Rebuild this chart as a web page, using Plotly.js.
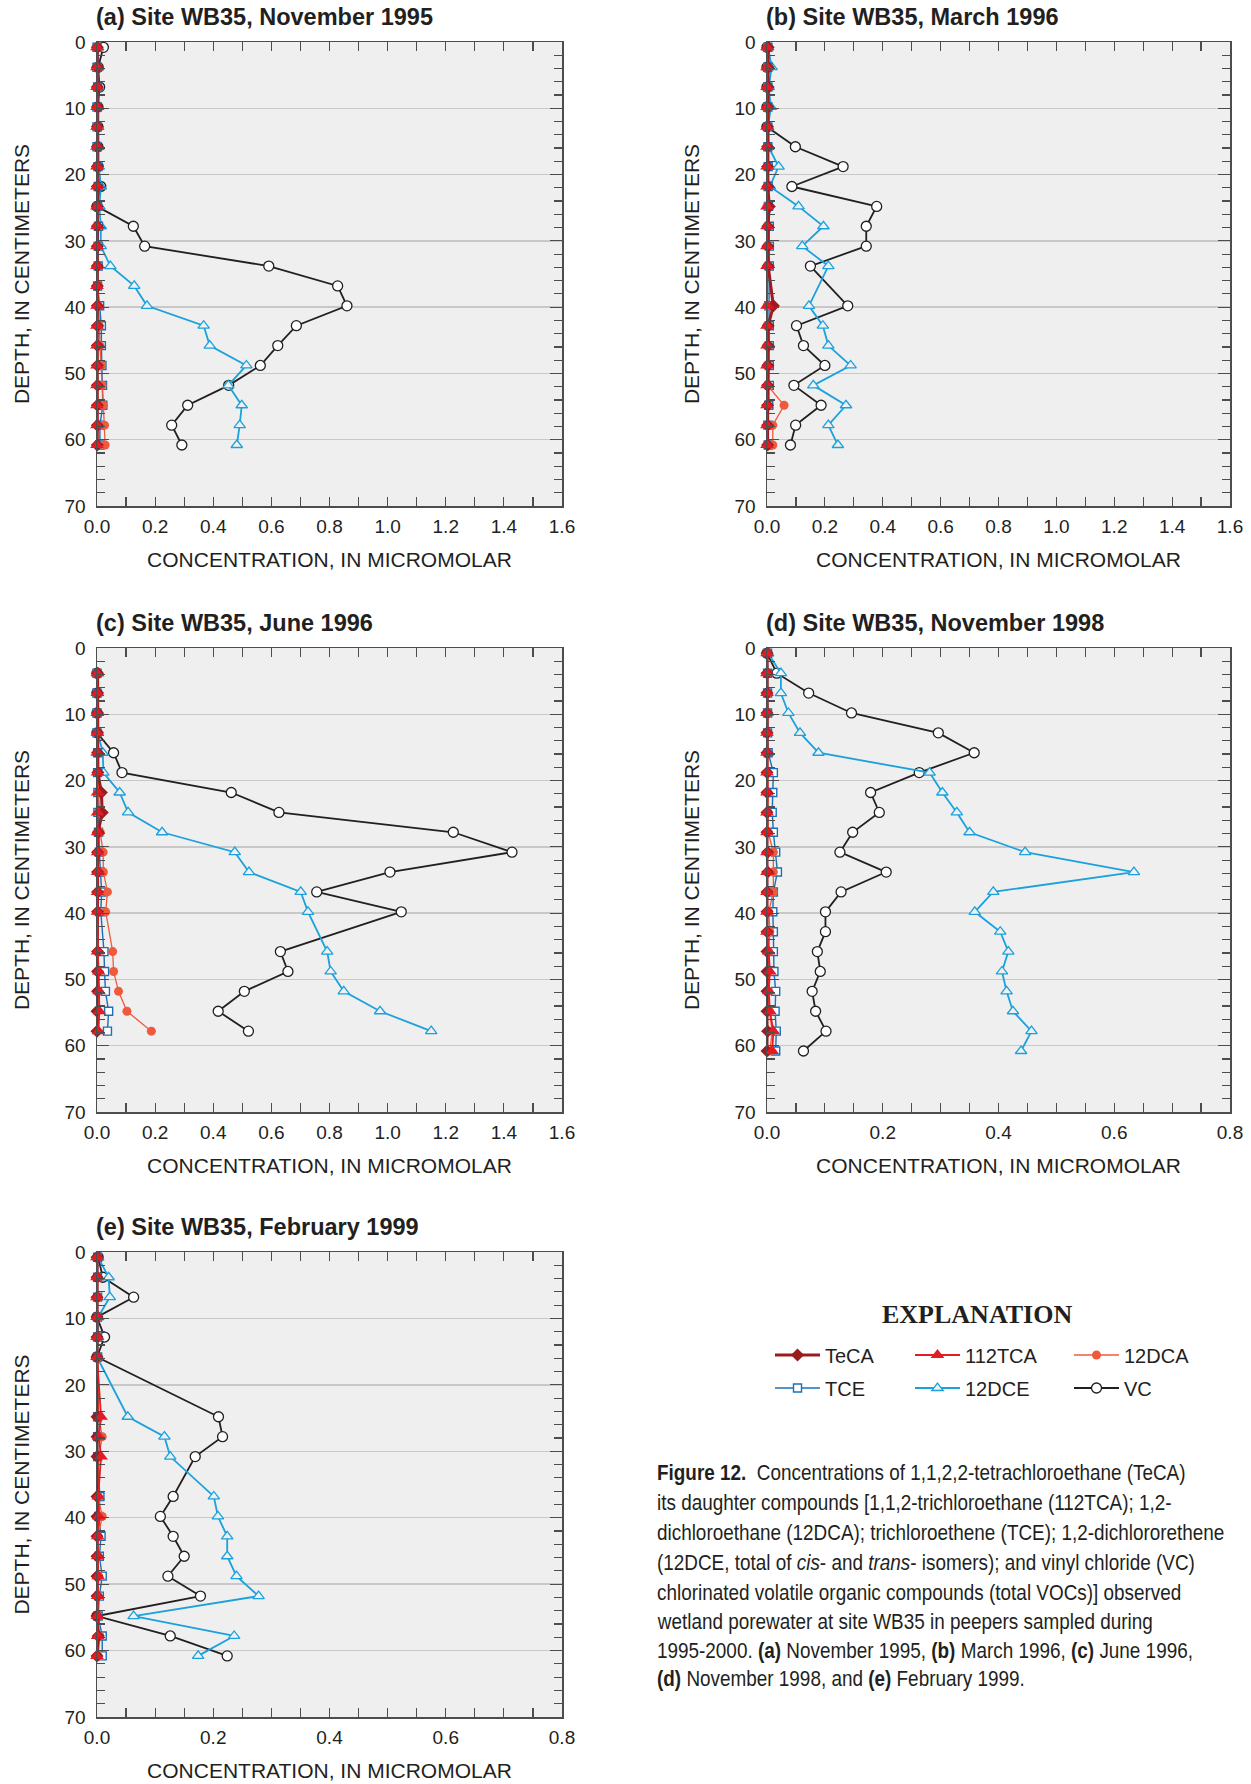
<!DOCTYPE html>
<html><head><meta charset="utf-8">
<script src="https://cdn.plot.ly/plotly-3.0.1.min.js"></script>
<style>html,body{margin:0;padding:0;background:#fff}</style>
</head><body><div id="chart" style="width:1251px;height:1784px"></div>
<script>
// ---------------- DATA ----------------
// Depths of peeper cells, in centimeters
const depthA = [0.8, 3.8, 6.8, 9.8, 12.8, 15.8, 18.8, 21.8, 24.8, 27.8, 30.8, 33.8, 36.8, 39.8, 42.8, 45.8, 48.8, 51.8, 54.8, 57.8, 60.8];
const depthB = [0.8, 3.8, 6.8, 9.8, 12.8, 15.8, 18.8, 21.8, 24.8, 27.8, 30.8, 33.8, 39.8, 42.8, 45.8, 48.8, 51.8, 54.8, 57.8, 60.8];
const depthC = [3.8, 6.8, 9.8, 12.8, 15.8, 18.8, 21.8, 24.8, 27.8, 30.8, 33.8, 36.8, 39.8, 45.8, 48.8, 51.8, 54.8, 57.8];
const depthD = [0.8, 3.8, 6.8, 9.8, 12.8, 15.8, 18.8, 21.8, 24.8, 27.8, 30.8, 33.8, 36.8, 39.8, 42.8, 45.8, 48.8, 51.8, 54.8, 57.8, 60.8];
const depthE = [0.8, 3.8, 6.8, 9.8, 12.8, 15.8, 24.8, 27.8, 30.8, 36.8, 39.8, 42.8, 45.8, 48.8, 51.8, 54.8, 57.8, 60.8];

// (a) November 1995
const VC_a     = [0.022, 0.004, 0.009, 0.003, 0.003, 0.003, 0.004, 0.013, 0.0, 0.125, 0.164, 0.591, 0.828, 0.86, 0.686, 0.622, 0.562, 0.453, 0.312, 0.257, 0.292];
const DCE12_a  = [0.004, 0.004, 0.005, 0.004, 0.004, 0.005, 0.006, 0.013, 0.008, 0.013, 0.013, 0.046, 0.128, 0.172, 0.367, 0.388, 0.514, 0.452, 0.498, 0.491, 0.481];
const TCE_a    = [0.0, 0.0, 0.002, 0.0, 0.0, 0.0, 0.003, 0.004, 0.002, 0.005, 0.004, 0.004, 0.002, 0.009, 0.015, 0.015, 0.017, 0.019, 0.02, 0.01, 0.01];
const DCA12_a  = [0.0, 0.0, 0.0, 0.0, 0.0, 0.0, 0.0, 0.0, 0.0, 0.0, 0.0, 0.0, 0.004, 0.005, 0.008, 0.01, 0.015, 0.018, 0.022, 0.026, 0.028];
const TCA112_a = [0.0, 0.0, 0.0, 0.0, 0.0, 0.0, 0.0, 0.0, 0.0, 0.0, 0.0, 0.0, 0.0, 0.0, 0.0, 0.0, 0.0, 0.0, 0.0, 0.0, 0.0];
const TeCA_a   = [0.001, 0.001, 0.001, 0.001, 0.001, 0.001, 0.001, 0.001, 0.001, 0.001, 0.001, 0.001, 0.001, 0.001, 0.001, 0.001, 0.001, 0.001, 0.001, 0.001, 0.001];

// (b) March 1996
const VC_b     = [0.0, 0.0, 0.0, 0.0, 0.0, 0.098, 0.263, 0.086, 0.379, 0.343, 0.343, 0.150, 0.279, 0.102, 0.126, 0.200, 0.093, 0.187, 0.099, 0.081];
const DCE12_b  = [0.004, 0.016, 0.006, 0.013, 0.004, 0.005, 0.040, 0.010, 0.109, 0.195, 0.122, 0.212, 0.145, 0.193, 0.212, 0.289, 0.160, 0.273, 0.212, 0.245];
const TCE_b    = [0.003, 0.003, 0.003, 0.003, 0.003, 0.003, 0.004, 0.004, 0.005, 0.008, 0.008, 0.008, 0.006, 0.008, 0.008, 0.008, 0.008, 0.006, 0.003, 0.004];
const DCA12_b  = [0.0, 0.0, 0.0, 0.0, 0.0, 0.0, 0.0, 0.0, 0.0, 0.0, 0.0, 0.0, 0.0, 0.0, 0.0, 0.0, 0.002, 0.059, 0.02, 0.02];
const TCA112_b = [0.0, 0.0, 0.0, 0.0, 0.0, 0.0, 0.0, 0.0, 0.0, 0.0, 0.0, 0.0, 0.0, 0.0, 0.0, 0.0, 0.0, 0.0, 0.0, 0.0];
const TeCA_b   = [0.004, 0.004, 0.004, 0.003, 0.002, 0.002, 0.002, 0.003, 0.008, 0.003, 0.003, 0.004, 0.022, 0.004, 0.004, 0.003, 0.002, 0.002, 0.002, 0.002];

// (c) June 1996
const VC_c     = [0.0, 0.0, 0.0, 0.0, 0.057, 0.086, 0.462, 0.626, 1.226, 1.428, 1.008, 0.756, 1.047, 0.631, 0.657, 0.507, 0.417, 0.521];
const DCE12_c  = [0.003, 0.003, 0.003, 0.003, 0.020, 0.022, 0.078, 0.107, 0.224, 0.474, 0.523, 0.701, 0.726, 0.792, 0.804, 0.849, 0.974, 1.150];
const TCE_c    = [0.0, 0.0, 0.0, 0.0, 0.002, 0.002, 0.003, 0.003, 0.005, 0.008, 0.011, 0.016, 0.013, 0.024, 0.026, 0.029, 0.040, 0.036];
const DCA12_c  = [0.002, 0.002, 0.002, 0.002, 0.003, 0.004, 0.006, 0.008, 0.011, 0.021, 0.022, 0.036, 0.030, 0.054, 0.057, 0.074, 0.103, 0.187];
const TCA112_c = [0.001, 0.001, 0.001, 0.001, 0.001, 0.002, 0.002, 0.002, 0.002, 0.002, 0.002, 0.002, 0.002, 0.002, 0.006, 0.007, 0.008, 0.005];
const TeCA_c   = [0.002, 0.002, 0.002, 0.002, 0.002, 0.003, 0.015, 0.018, 0.004, 0.002, 0.002, 0.002, 0.002, 0.002, 0.002, 0.002, 0.0, 0.0];

// (d) November 1998
const VC_d     = [0.0, 0.017, 0.072, 0.146, 0.296, 0.358, 0.263, 0.179, 0.194, 0.148, 0.126, 0.206, 0.128, 0.101, 0.101, 0.087, 0.092, 0.078, 0.084, 0.102, 0.063];
const DCE12_d  = [0.002, 0.024, 0.024, 0.037, 0.057, 0.089, 0.281, 0.303, 0.328, 0.350, 0.446, 0.634, 0.391, 0.359, 0.403, 0.417, 0.406, 0.414, 0.425, 0.457, 0.439];
const TCE_d    = [0.001, 0.001, 0.001, 0.001, 0.001, 0.002, 0.011, 0.010, 0.009, 0.011, 0.015, 0.018, 0.011, 0.010, 0.011, 0.011, 0.012, 0.015, 0.014, 0.016, 0.015];
const DCA12_d  = [0.001, 0.001, 0.001, 0.001, 0.001, 0.001, 0.001, 0.001, 0.002, 0.002, 0.011, 0.011, 0.011, 0.003, 0.005, 0.003, 0.002, 0.002, 0.004, 0.009, 0.005];
const TCA112_d = [0.0, 0.0, 0.0, 0.0, 0.0, 0.0, 0.0, 0.0, 0.0, 0.0, 0.0, 0.0, 0.0, 0.0, 0.0, 0.003, 0.005, 0.003, 0.005, 0.011, 0.009];
const TeCA_d   = [0.0, 0.0, 0.0, 0.0, 0.0, 0.0, 0.0, 0.0, 0.0, 0.0, 0.001, 0.001, 0.0, 0.0, 0.0, 0.0, 0.0, 0.0, 0.0, 0.001, 0.0];

// (e) February 1999
const VC_e     = [0.002, 0.010, 0.063, 0.0, 0.013, 0.0, 0.209, 0.216, 0.169, 0.131, 0.109, 0.131, 0.150, 0.122, 0.178, 0.0, 0.126, 0.224];
const DCE12_e  = [0.002, 0.020, 0.022, 0.002, 0.002, 0.0, 0.053, 0.116, 0.126, 0.201, 0.208, 0.224, 0.224, 0.240, 0.278, 0.063, 0.236, 0.174];
const TCE_e    = [0.001, 0.001, 0.001, 0.001, 0.001, 0.001, 0.001, 0.001, 0.001, 0.005, 0.003, 0.007, 0.004, 0.009, 0.004, 0.002, 0.009, 0.009];
const DCA12_e  = [0.001, 0.001, 0.001, 0.001, 0.001, 0.001, 0.003, 0.009, 0.003, 0.002, 0.009, 0.002, 0.002, 0.003, 0.002, 0.001, 0.005, 0.002];
const TCA112_e = [0.0, 0.0, 0.0, 0.0, 0.0, 0.0, 0.007, 0.003, 0.007, 0.002, 0.003, 0.001, 0.001, 0.002, 0.001, 0.001, 0.001, 0.0];
const TeCA_e   = [0.0, 0.0, 0.0, 0.0, 0.0, 0.0, 0.0, 0.0, 0.0, 0.0, 0.0, 0.0, 0.0, 0.0, 0.0, 0.0, 0.002, 0.0];

// Labels
const panelTitles = ['(a) Site WB35, November 1995', '(b) Site WB35, March 1996', '(c) Site WB35, June 1996',
                     '(d) Site WB35, November 1998', '(e) Site WB35, February 1999'];
const seriesNames = ['TeCA', '112TCA', '12DCA', 'TCE', '12DCE', 'VC'];
const xAxisTitle = 'CONCENTRATION, IN MICROMOLAR';
const yAxisTitle = 'DEPTH, IN CENTIMETERS';
const legendTitle = 'EXPLANATION';
const captionLines = [
  '<b>Figure 12.</b>  Concentrations of 1,1,2,2-tetrachloroethane (TeCA)',
  'its daughter compounds [1,1,2-trichloroethane (112TCA); 1,2-',
  'dichloroethane (12DCA); trichloroethene (TCE); 1,2-dichlororethene',
  '(12DCE, total of <i>cis</i>- and <i>trans</i>- isomers); and vinyl chloride (VC)',
  'chlorinated volatile organic compounds (total VOCs)] observed',
  'wetland porewater at site WB35 in peepers sampled during',
  '1995-2000. <b>(a)</b> November 1995, <b>(b)</b> March 1996, <b>(c)</b> June 1996,',
  '<b>(d)</b> November 1998, and <b>(e)</b> February 1999.'
];

// ---------------- LAYOUT / STYLE ----------------
const W = 1251, H = 1784;
const px = v => v / W, py = v => 1 - v / H;
const FONT = 'Liberation Sans, Arial, Helvetica, sans-serif';
const SERIF = 'Liberation Serif, Times New Roman, serif';
const INK = '#231f20';
const FRAME = '#4d4d4d';

const panels = [
  {depth: depthA, s: {TeCA: TeCA_a, '112TCA': TCA112_a, '12DCA': DCA12_a, TCE: TCE_a, '12DCE': DCE12_a, VC: VC_a}, xmax: 1.6, L: 97, R: 562, T: 42, B: 506},
  {depth: depthB, s: {TeCA: TeCA_b, '112TCA': TCA112_b, '12DCA': DCA12_b, TCE: TCE_b, '12DCE': DCE12_b, VC: VC_b}, xmax: 1.6, L: 767, R: 1230, T: 42, B: 506},
  {depth: depthC, s: {TeCA: TeCA_c, '112TCA': TCA112_c, '12DCA': DCA12_c, TCE: TCE_c, '12DCE': DCE12_c, VC: VC_c}, xmax: 1.6, L: 97, R: 562, T: 648, B: 1112},
  {depth: depthD, s: {TeCA: TeCA_d, '112TCA': TCA112_d, '12DCA': DCA12_d, TCE: TCE_d, '12DCE': DCE12_d, VC: VC_d}, xmax: 0.8, L: 767, R: 1230, T: 648, B: 1112},
  {depth: depthE, s: {TeCA: TeCA_e, '112TCA': TCA112_e, '12DCA': DCA12_e, TCE: TCE_e, '12DCE': DCE12_e, VC: VC_e}, xmax: 0.8, L: 97, R: 562, T: 1252, B: 1717}
];

const styles = {
  'VC':     {line: {color: '#231f20', width: 1.8}, marker: {symbol: 'circle', size: 10, color: '#ffffff', line: {color: '#231f20', width: 1.3}}},
  '12DCE':  {line: {color: '#1ba1dc', width: 1.8}, marker: {symbol: 'triangle-up', size: 10, color: '#f0f0f0', line: {color: '#1ba1dc', width: 1.3}}},
  'TCE':    {line: {color: '#1a6fb7', width: 1.4}, marker: {symbol: 'square', size: 8, color: '#ffffff', line: {color: '#1a6fb7', width: 1.4}}},
  '12DCA':  {line: {color: '#f05a3c', width: 1.3}, marker: {symbol: 'circle', size: 9, color: '#f05a3c', line: {width: 0}}},
  'TeCA':   {line: {color: '#9b1b1f', width: 3}, marker: {symbol: 'diamond', size: 10, color: '#9b1b1f', line: {width: 0}}},
  '112TCA': {line: {color: '#e31b23', width: 1.8}, marker: {symbol: 'triangle-up', size: 12, color: '#e31b23', line: {width: 0}}}
};
const drawOrder = ['VC', '12DCE', 'TCE', '12DCA', 'TeCA', '112TCA'];
const legendSlot = {'TeCA': 'legend', '112TCA': 'legend2', '12DCA': 'legend3', 'TCE': 'legend4', '12DCE': 'legend5', 'VC': 'legend6'};

const traces = [];
const layout = {
  width: W, height: H, margin: {l: 0, r: 0, t: 0, b: 0}, autosize: false,
  paper_bgcolor: '#ffffff', plot_bgcolor: '#efefef',
  font: {family: FONT, color: INK}, hovermode: false,
  annotations: [], showlegend: true
};

panels.forEach((p, i) => {
  const n = i === 0 ? '' : String(i + 1);
  const xa = 'xaxis' + n, ya = 'yaxis' + n;
  layout[xa] = {
    domain: [px(p.L), px(p.R)], anchor: 'y' + n, range: [0, p.xmax], autorange: false,
    tick0: 0, dtick: 0.2, tickformat: '.1f', ticks: 'inside', ticklen: 9, tickwidth: 1.2, tickcolor: FRAME,
    showline: true, linecolor: FRAME, linewidth: 1.5, mirror: 'ticks', showgrid: false, zeroline: false,
    tickfont: {family: FONT, size: 19, color: INK}, ticklabelstandoff: 3,
    minor: {dtick: p.xmax > 1 ? 0.1 : 0.05, ticks: 'inside', ticklen: 9, tickwidth: 1.2, tickcolor: FRAME, showgrid: false},
    title: {text: xAxisTitle, font: {family: FONT, size: 21, color: INK}, standoff: 16}
  };
  layout[ya] = {
    domain: [py(p.B), py(p.T)], anchor: 'x' + n, range: [70, 0], autorange: false,
    tick0: 0, dtick: 10, ticks: 'inside', ticklen: 12, tickwidth: 1.2, tickcolor: FRAME,
    showline: true, linecolor: FRAME, linewidth: 1.5, mirror: 'ticks',
    showgrid: true, gridcolor: '#c8c8c8', gridwidth: 1.5, zeroline: false,
    tickfont: {family: FONT, size: 19, color: INK}, ticklabelstandoff: 6,
    minor: {dtick: 2, ticks: 'inside', ticklen: 8, tickwidth: 1.2, tickcolor: FRAME, showgrid: false},
    title: {text: yAxisTitle, font: {family: FONT, size: 21, color: INK}, standoff: 29}
  };
  layout.annotations.push({
    text: '<b>' + panelTitles[i] + '</b>', xref: 'paper', yref: 'paper', x: px(p.L - 3), y: py(p.T - 25),
    xanchor: 'left', yanchor: 'middle', showarrow: false, font: {family: FONT, size: 23.5, color: INK}
  });
  drawOrder.forEach(name => {
    const st = styles[name];
    traces.push({
      type: 'scatter', mode: 'lines+markers', name: name,
      x: p.s[name], y: p.depth, xaxis: 'x' + n, yaxis: 'y' + n,
      line: st.line, marker: st.marker, cliponaxis: false,
      showlegend: i === 0, legend: legendSlot[name]
    });
  });
});

// legends (two rows of three entries)
const legendPos = {legend: [770, 1355], legend2: [910, 1355], legend3: [1069, 1355],
                   legend4: [770, 1388], legend5: [910, 1388], legend6: [1069, 1388]};
Object.keys(legendPos).forEach(k => {
  layout[k] = {
    x: px(legendPos[k][0]), y: py(legendPos[k][1]), xanchor: 'left', yanchor: 'middle',
    orientation: 'h', bgcolor: 'rgba(0,0,0,0)', borderwidth: 0, itemwidth: 45,
    font: {family: FONT, size: 20, color: INK}, itemclick: false, itemdoubleclick: false
  };
});

layout.annotations.push({
  text: '<b>' + legendTitle + '</b>', xref: 'paper', yref: 'paper', x: px(977), y: py(1314),
  xanchor: 'center', yanchor: 'middle', showarrow: false, font: {family: SERIF, size: 26, color: INK}
});
const captionStart = layout.annotations.length;
const captionY = [1472, 1502, 1532, 1562, 1592, 1621, 1650, 1678];
captionLines.forEach((t, k) => {
  layout.annotations.push({
    text: t, xref: 'paper', yref: 'paper', x: px(655), y: py(captionY[k]), xanchor: 'left', yanchor: 'middle',
    align: 'left', showarrow: false, font: {family: FONT, size: 22, color: INK}
  });
});

Plotly.newPlot('chart', traces, layout, {staticPlot: true, displayModeBar: false}).then(gd => {
  // The original caption is set in a condensed face; compress the caption lines horizontally so they fit.
  const texts = [];
  for (let k = captionStart; k < captionStart + captionLines.length; k++) {
    const g = gd.querySelector('g.annotation[data-index="' + k + '"]');
    if (g) { const t = g.querySelector('text'); if (t) texts.push(t); }
  }
  if (!texts.length) return;
  const maxW = Math.max(...texts.map(t => t.getBBox().width));
  const s = Math.min(0.86, (W - 657 - 6) / maxW);
  texts.forEach(t => {
    const b = t.getBBox();
    t.setAttribute('transform', 'translate(' + b.x + ',0) scale(' + s + ',1) translate(' + (-b.x) + ',0)');
  });
});
</script></body></html>
